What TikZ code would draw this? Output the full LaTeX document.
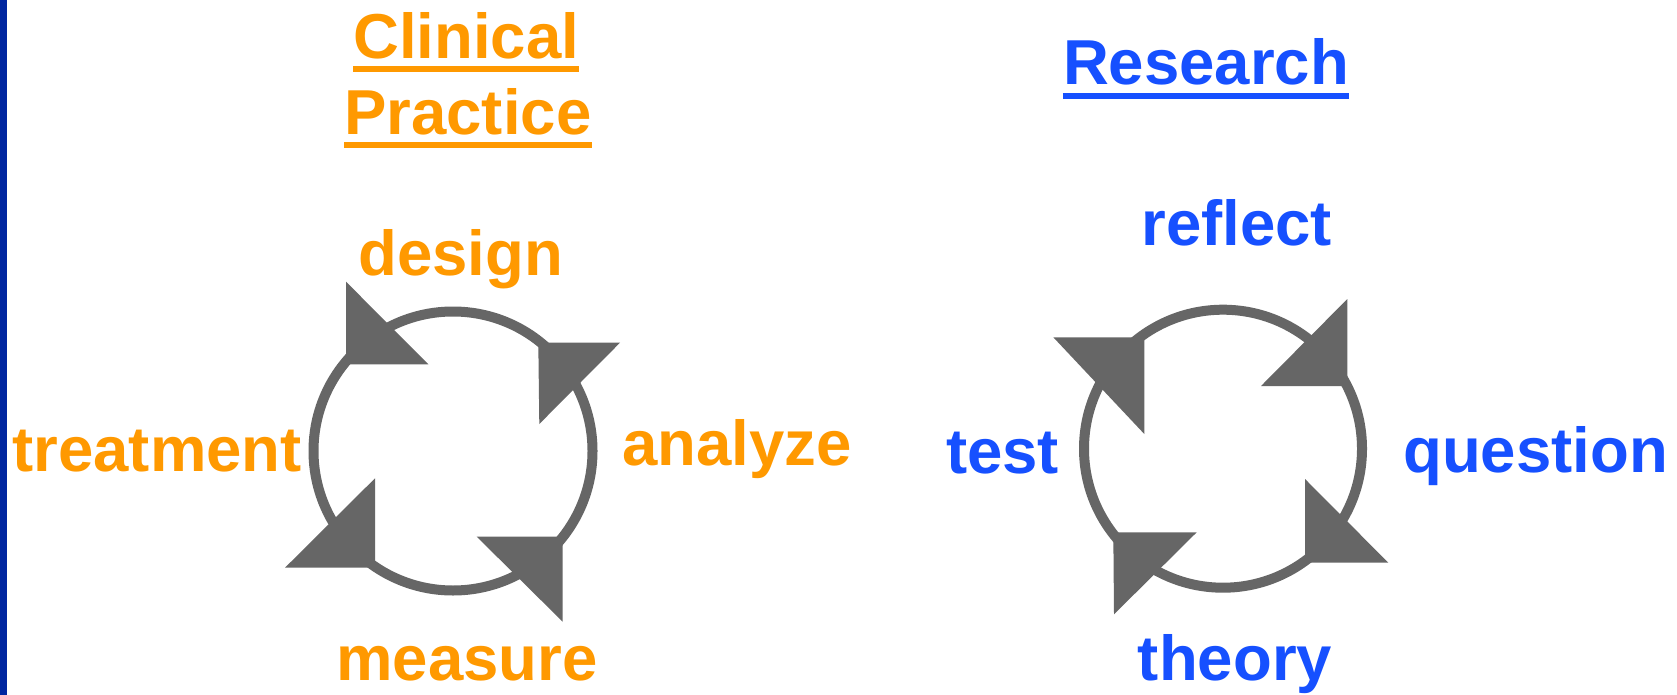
\documentclass[tikz,border=0pt]{standalone}
\usepackage{fontspec}
\setmainfont{Liberation Sans}
\definecolor{cporange}{RGB}{255,153,0}
\definecolor{rblue}{RGB}{22,80,255}
\definecolor{barblue}{RGB}{0,38,160}
\definecolor{cgray}{RGB}{102,102,102}
\begin{document}
\begin{tikzpicture}[x=1pt,y=-1pt,
  lbl/.style={inner sep=0pt,anchor=base,font=\fontsize{63.5}{76}\selectfont\bfseries},
  ora/.style={lbl,text=cporange},
  blu/.style={lbl,text=rblue},
  ring/.style={draw=cgray,line width=10pt},
  head/.style={fill=cgray}]
\useasboundingbox (0,0) rectangle (1677,695);
\fill[white] (0,0) rectangle (1677,695);
\fill[barblue] (0,0) rectangle (7.3,695);

% titles
\node[ora] (clin) at (466.3,58.3) {Clinical};
\node[ora] (prac) at (467.8,135) {Practice};
\node[blu] (res) at (1206,85) {Research};
\draw[cporange,line width=6pt] ([yshift=-10.7pt]clin.base west) -- ([yshift=-10.7pt]clin.base east);
\draw[cporange,line width=6pt] ([yshift=-10.5pt]prac.base west) -- ([yshift=-10.5pt]prac.base east);
\draw[rblue,line width=6pt] ([yshift=-10.7pt]res.base west) -- ([yshift=-10.7pt]res.base east);

% left cycle
\coordinate (lc) at (453,451);
\draw[ring] (lc) circle[radius=139.5];
\fill[head] (346,281.7) -- (346,364.3) -- (428.3,364.3) -- cycle;
\fill[head] (538.3,342.7) -- (620,342.7) -- (539.3,424) -- cycle;
\fill[head] (476.7,536.7) -- (562.7,536.7) -- (562.7,621.7) -- cycle;
\fill[head] (375,478.3) -- (375,567.7) -- (285,567.7) -- cycle;
\node[ora] (design) at (460.8,275) {design};
\node[ora] (treat) at (157.2,471.7) {treatment};
\node[ora] (anal) at (737,465) {analyze};
\node[ora] (meas) at (467,680) {measure};

% right cycle
\coordinate (rc) at (1223,448.7);
\draw[ring] (rc) circle[radius=139];
\fill[head] (1053.3,337.3) -- (1144.3,337.3) -- (1144.3,434) -- cycle;
\fill[head] (1347.3,299) -- (1347.3,386) -- (1261,386) -- cycle;
\fill[head] (1305,479) -- (1305,562.7) -- (1388.3,562.7) -- cycle;
\fill[head] (1113.3,532.3) -- (1196.7,532.3) -- (1114,614.3) -- cycle;
\node[blu] (refl) at (1236.7,245) {reflect};
\node[blu] (test) at (1002.5,473) {test};
\node[blu] (quest) at (1535.5,472) {question};
\node[blu] (theo) at (1235,680) {theory};
\end{tikzpicture}
\end{document}
